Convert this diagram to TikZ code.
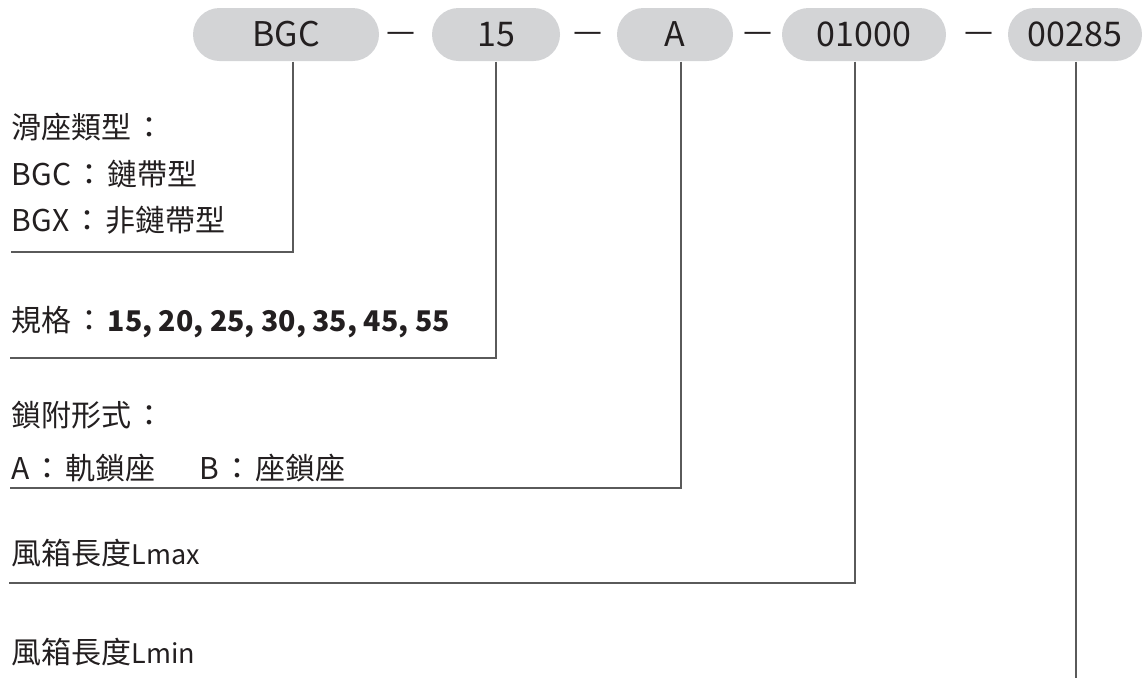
\documentclass[tikz,border=0pt]{standalone}
\usepackage{fontspec}
\setmainfont{Noto Sans CJK TC}
\usetikzlibrary{positioning}

\definecolor{pillgray}{RGB}{211,212,214}
\definecolor{inkgray}{RGB}{35,31,32}
\definecolor{leadgray}{RGB}{90,90,90}

\newcommand{\colsep}{\hspace{3pt}：\hspace{3pt}}
\newcommand{\latinpart}[1]{{\fontsize{27}{32}\selectfont #1}}

\tikzset{every picture/.style={line width=1.3pt}}
\tikzset{
  pill/.style={fill=pillgray, rounded corners=26.5pt, minimum height=53pt, inner sep=0pt,
    text=inkgray, font=\fontsize{34}{36}\selectfont},
  sep/.style={text=inkgray, inner sep=0pt, font=\fontsize{32.5}{34}\selectfont},
  lbl/.style={anchor=west, inner sep=0pt, text=inkgray, font=\fontsize{30}{32}\selectfont},
  leader/.style={draw=leadgray, line width=1.3pt}
}

\begin{document}
\begin{tikzpicture}[x=1pt,y=1pt,yscale=-1,xscale=1]
\useasboundingbox (0,0) rectangle (1142,678);

% code boxes
\node [pill, minimum width=186pt] (bgc) at (286,34.5) {BGC};
\node [pill, minimum width=128pt] (spec) at (496,34.5) {15};
\node [pill, minimum width=116pt] (lock) at (675,34.5) {A};
\node [pill, minimum width=164pt] (lmax) at (864,34.5) {01000};
\node [pill, minimum width=134pt] (lmin) at (1075,34.5) {00285};

\node [sep] (d1) at (401.5,37) {—};
\node [sep] (d2) at (588,37) {—};
\node [sep] (d3) at (758.5,37) {—};
\node [sep] (d4) at (979,37) {—};

% descriptions
\node [lbl] (t1) at (11,127) {滑座類型\colsep};
\node [lbl] (t2) at (11,174) {BGC\colsep 鏈帶型};
\node [lbl] (t3) at (11,220) {BGX\colsep 非鏈帶型};
\node [lbl] (t4) at (11,322) {規格\colsep{\fontsize{28.5}{32}\selectfont\bfseries 15, 20, 25, 30, 35, 45, 55}};
\node [lbl] (t5) at (11,415) {鎖附形式\colsep};
\node [lbl] (t6) at (11,468) {A\colsep 軌鎖座\hspace{44pt}B\colsep 座鎖座};
\node [lbl] (t7) at (11,553) {風箱長度\latinpart{Lmax}};
\node [lbl] (t8) at (11,652) {風箱長度\latinpart{Lmin}};

% leaders
\coordinate (k1) at (293,252);
\coordinate (e1) at (11,252);
\coordinate (k2) at (496,358);
\coordinate (e2) at (10,358);
\coordinate (k3) at (681,488);
\coordinate (e3) at (10,488);
\coordinate (k4) at (855,583);
\coordinate (e4) at (9,583);
\coordinate (k5) at (1076,678);

\draw [leader] (bgc.south -| k1) -- (k1) -- (e1);
\draw [leader] (spec.south -| k2) -- (k2) -- (e2);
\draw [leader] (lock.south -| k3) -- (k3) -- (e3);
\draw [leader] (lmax.south -| k4) -- (k4) -- (e4);
\draw [leader] (lmin.south -| k5) -- (k5);

\end{tikzpicture}
\end{document}
